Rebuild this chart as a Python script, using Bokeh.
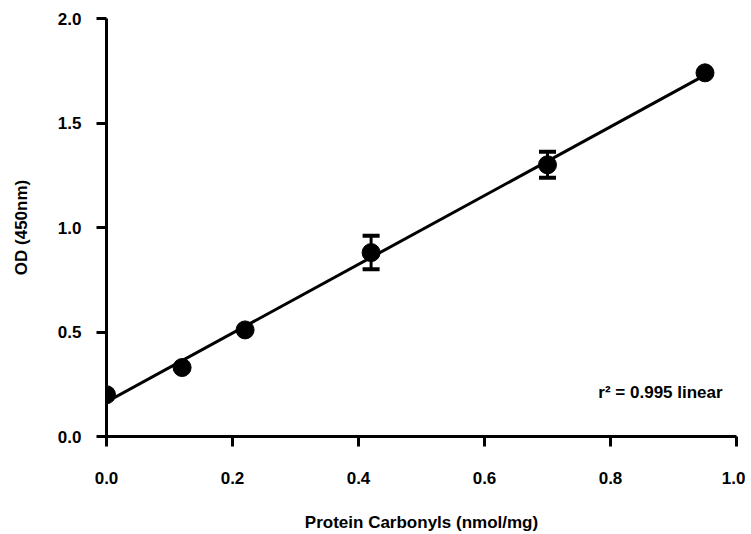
import numpy as np
from bokeh.plotting import figure
from bokeh.models import ColumnDataSource, FixedTicker, PrintfTickFormatter, Whisker, TeeHead, Label
from bokeh.embed import file_html
from bokeh.resources import INLINE

# Data
carbonyls = [0.0, 0.12, 0.22, 0.42, 0.70, 0.95]
od_mean = [0.20, 0.33, 0.51, 0.88, 1.30, 1.74]
od_sd = [0.0, 0.0, 0.0, 0.08, 0.062, 0.0]
x_ticks = [0.0, 0.2, 0.4, 0.6, 0.8, 1.0]
y_ticks = [0.0, 0.5, 1.0, 1.5, 2.0]
annotation = "r\u00b2 = 0.995 linear"

FONT = "Liberation Sans"

p = figure(width=745, height=534, output_backend="svg", toolbar_location=None,
           x_range=(0.0, 1.0), y_range=(0.0, 2.0),
           min_border_left=106, min_border_right=9, min_border_top=18, min_border_bottom=97)
p.outline_line_color = None
p.grid.visible = False
p.background_fill_color = "white"
p.border_fill_color = "white"

for ax in (p.xaxis[0], p.yaxis[0]):
    ax.axis_line_width = 3
    ax.axis_line_color = "black"
    ax.major_tick_line_width = 3
    ax.major_tick_line_color = "black"
    ax.major_tick_out = 10
    ax.major_tick_in = 0
    ax.minor_tick_line_color = None
    ax.major_label_text_font = FONT
    ax.major_label_text_font_style = "bold"
    ax.major_label_text_font_size = "17px"
    ax.major_label_text_color = "black"
    ax.axis_label_text_font = FONT
    ax.axis_label_text_font_style = "bold"
    ax.axis_label_text_font_size = "17px"
    ax.axis_label_text_color = "black"
    ax.formatter = PrintfTickFormatter(format="%.1f")

p.xaxis.ticker = FixedTicker(ticks=x_ticks)
p.yaxis.ticker = FixedTicker(ticks=y_ticks)
p.xaxis.axis_label = "Protein Carbonyls (nmol/mg)"
p.yaxis.axis_label = "OD (450nm)"
p.xaxis.major_label_standoff = 25
p.xaxis.axis_label_standoff = 26
p.yaxis.major_label_standoff = 15
p.yaxis.axis_label_standoff = 24

# Linear fit
slope, intercept = np.polyfit(carbonyls, od_mean, 1)
fit_x = [min(carbonyls), max(carbonyls)]
fit_y = [slope * v + intercept for v in fit_x]
p.line(fit_x, fit_y, line_width=3, line_color="black")

# Error bars (only where visible)
ex = [c for c, s in zip(carbonyls, od_sd) if s > 0]
lo = [m - s for m, s in zip(od_mean, od_sd) if s > 0]
hi = [m + s for m, s in zip(od_mean, od_sd) if s > 0]
esrc = ColumnDataSource(dict(x=ex, lower=lo, upper=hi))
w = Whisker(base="x", lower="lower", upper="upper", source=esrc,
            line_width=3, line_color="black",
            upper_head=TeeHead(size=17, line_width=4, line_color="black"),
            lower_head=TeeHead(size=17, line_width=4, line_color="black"))
p.add_layout(w)

src = ColumnDataSource(dict(x=carbonyls, y=od_mean))
p.scatter("x", "y", source=src, size=18, marker="circle", fill_color="black", line_color="black")

lbl = Label(x=0.978, y=0.21, text=annotation, text_align="right", text_baseline="middle",
            text_font=FONT, text_font_style="bold", text_font_size="17px", text_color="black")
p.add_layout(lbl)

open("out.html", "w").write(file_html(p, INLINE))
